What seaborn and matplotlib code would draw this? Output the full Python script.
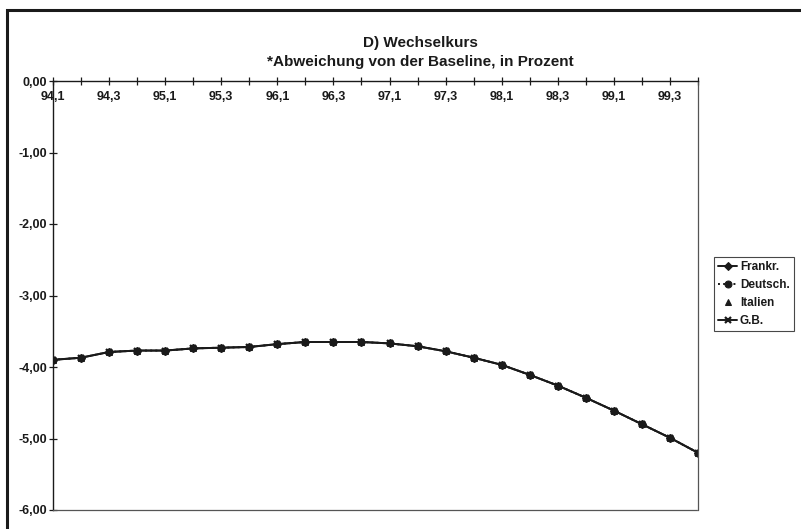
import matplotlib
matplotlib.use("Agg")
import matplotlib.pyplot as plt
from matplotlib.patches import Rectangle
import pandas as pd
import seaborn as sns

# Quarters 94,1 ... 99,4
quarters = [f"{y},{q}" for y in range(94, 100) for q in range(1, 5)]

# Abweichung von der Baseline in Prozent (all four series coincide)
werte = [-3.90, -3.87, -3.79, -3.77, -3.77, -3.74, -3.73, -3.72,
         -3.68, -3.65, -3.65, -3.65, -3.67, -3.71, -3.78, -3.87,
         -3.97, -4.11, -4.26, -4.43, -4.61, -4.80, -4.99, -5.20]
frankr = werte
deutsch = werte
italien = werte
gb = werte

series = ["Frankr.", "Deutsch.", "Italien", "G.B."]
y_ticks = [0, -1, -2, -3, -4, -5, -6]

df = pd.DataFrame({"quarter": quarters, "Frankr.": frankr, "Deutsch.": deutsch,
                   "Italien": italien, "G.B.": gb})
df["pos"] = range(len(quarters))

sns.set_theme(style="white")
plt.rcParams["font.family"] = ["Liberation Sans", "DejaVu Sans"]
plt.rcParams["font.weight"] = "bold"

fig = plt.figure(figsize=(8.01, 5.29), dpi=100)
ax = fig.add_axes([53 / 801, 1 - 510 / 529, 645 / 801, 429 / 529])

styles = {
    "Frankr.": dict(marker="D", linestyle="-", markersize=4),
    "Deutsch.": dict(marker="o", linestyle=":", markersize=5),
    "Italien": dict(marker="^", linestyle="none", markersize=4),
    "G.B.": dict(marker="x", linestyle="-", markersize=5, markeredgewidth=1.6),
}
for name in series:
    sns.lineplot(data=df, x="pos", y=name, ax=ax, color="#1a1a1a", linewidth=1.4,
                 markeredgecolor="#1a1a1a", label=name, **styles[name])

ax.set_xlim(0, len(quarters) - 1)
ax.set_ylim(-6, 0)
ax.set_xlabel("")
ax.set_ylabel("")

# x axis on the zero line, with labels under it
ax.spines["bottom"].set_position(("data", 0))
ax.spines["bottom"].set_color("#1a1a1a")
ax.spines["bottom"].set_linewidth(1.0)
ax.spines["left"].set_color("#1a1a1a")
ax.spines["left"].set_linewidth(1.0)
ax.spines["top"].set_position(("data", -6))
for s in ["top", "right"]:
    ax.spines[s].set_linestyle((0, (1, 1)))
    ax.spines[s].set_color("#555555")
    ax.spines[s].set_linewidth(0.9)

ax.set_xticks(df["pos"])
ax.set_xticklabels([q if i % 2 == 0 else "" for i, q in enumerate(quarters)])
ax.set_yticks(y_ticks)
ax.set_yticklabels([f"{v:.2f}".replace(".", ",") for v in y_ticks])
ax.tick_params(axis="x", bottom=True, top=False, direction="inout", length=6,
               width=0.9, color="#1a1a1a", labelsize=9, pad=4)
ax.tick_params(axis="y", left=True, direction="inout", length=6, width=0.9,
               color="#1a1a1a", labelsize=9, pad=1)
for lab in ax.get_xticklabels() + ax.get_yticklabels():
    lab.set_fontweight("bold")
    lab.set_color("#1a1a1a")

leg = ax.legend(loc="upper left", bbox_to_anchor=(714 / 801, 1 - 257 / 529),
                bbox_transform=fig.transFigure, frameon=True, fancybox=False,
                fontsize=8.5, handlelength=1.6, handletextpad=0.25,
                labelspacing=0.5, borderpad=0.35, borderaxespad=0)
leg.get_frame().set_edgecolor("#1a1a1a")
leg.get_frame().set_linewidth(0.8)
for t in leg.get_texts():
    t.set_fontweight("bold")
    t.set_color("#1a1a1a")

fig.text(420 / 801, 1 - 43 / 529, "D) Wechselkurs", ha="center", va="center",
         fontsize=11, fontweight="bold", color="#1a1a1a")
fig.text(420 / 801, 1 - 62 / 529, "*Abweichung von der Baseline, in Prozent",
         ha="center", va="center", fontsize=11, fontweight="bold", color="#1a1a1a")

# outer frame of the chart
fig.patches.append(Rectangle((7 / 801, -0.05), 1.1, 1 - 10 / 529 + 0.05,
                             transform=fig.transFigure, fill=False,
                             edgecolor="#1a1a1a", linewidth=2.2))

fig.savefig("out.png", dpi=100)
